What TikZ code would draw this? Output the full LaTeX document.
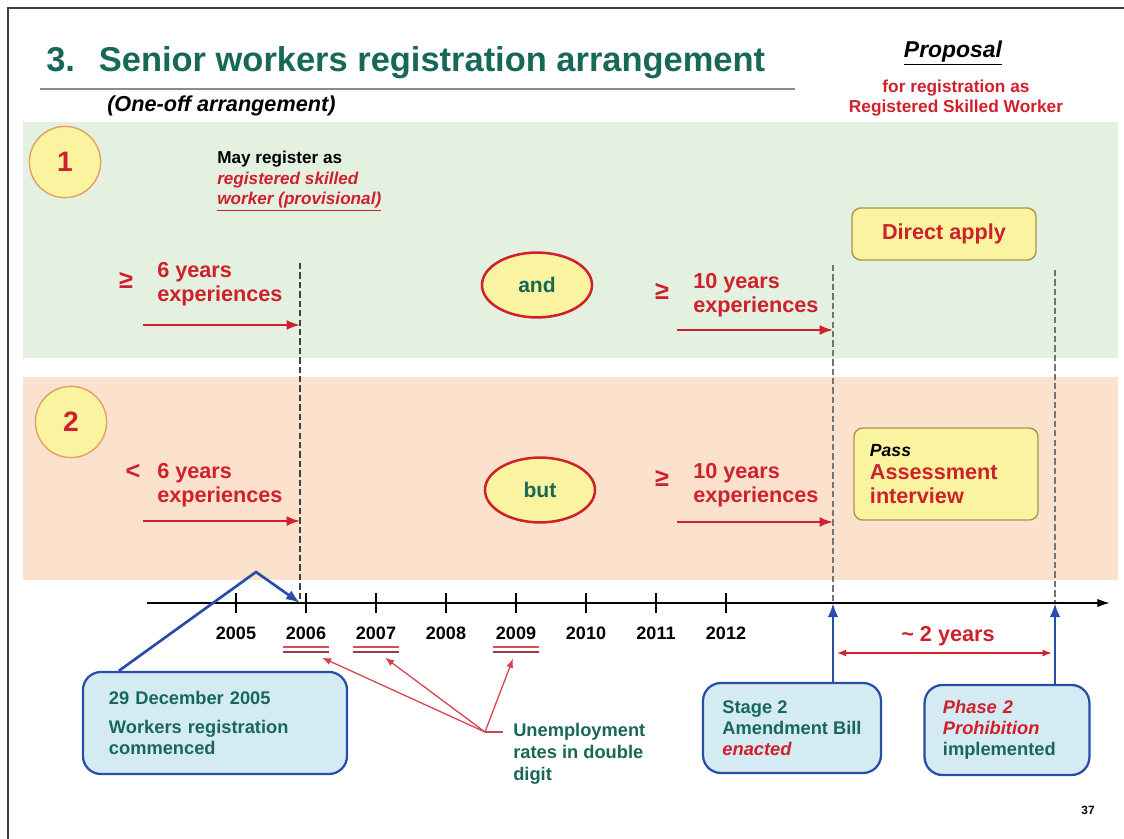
\documentclass[tikz,border=0pt]{standalone}
\usepackage{fontspec}
\setmainfont{Liberation Sans}
\usetikzlibrary{shapes.geometric, calc, arrows.meta}

\definecolor{sred}{RGB}{208,32,44}
\definecolor{steal}{RGB}{24,104,88}
\definecolor{sblue}{RGB}{38,78,168}
\definecolor{sbox}{RGB}{213,235,243}
\definecolor{syel}{RGB}{250,244,160}
\definecolor{bandA}{RGB}{228,240,224}
\definecolor{bandB}{RGB}{252,226,204}
\definecolor{sorange}{RGB}{226,160,100}
\definecolor{solive}{RGB}{170,150,80}
\definecolor{ulred}{RGB}{150,60,72}

\tikzset{
  lbl/.style={inner sep=0pt, text=sred, align=left, font=\bfseries\fontsize{15.4}{16.8}\selectfont},
  rel/.style={inner sep=0pt, text=sred, font=\bfseries\fontsize{18}{18}\selectfont},
  note/.style={inner sep=0pt, text=steal, align=left, font=\bfseries\fontsize{13}{15.6}\selectfont},
  numc/.style={circle, draw=sorange, line width=1pt, fill=syel, minimum size=1.78cm, text=sred, font=\bfseries\fontsize{20}{21}\selectfont},
  oval/.style={ellipse, draw=sred, line width=1.8pt, fill=syel, minimum width=2.75cm, minimum height=1.62cm, text=steal, font=\bfseries\fontsize{15}{16}\selectfont},
  ybox/.style={draw=solive, line width=1pt, fill=syel, rounded corners=0.22cm, text=sred, font=\bfseries\fontsize{15.4}{16.8}\selectfont},
  callout/.style={draw=sblue, line width=1.6pt, fill=sbox, rounded corners=0.45cm, text=steal, align=left, font=\bfseries\fontsize{13}{14.8}\selectfont},
  year/.style={inner sep=0pt, font=\bfseries\fontsize{12.8}{14}\selectfont},
  redarr/.style={draw=sred, line width=1.4pt, -{Latex[length=9.5pt, width=7pt]}},
  thinarr/.style={draw=sred!85!white, line width=0.9pt, -{Latex[length=6.5pt, width=5pt]}},
  bluearr/.style={draw=sblue, line width=1.9pt, -{Latex[length=10pt, width=7.5pt]}},
  dashv/.style={draw=black!55, line width=0.8pt, dash pattern=on 4.5pt off 2.2pt},
  tick/.style={draw=black, line width=1.3pt}
}

\begin{document}
\begin{tikzpicture}[x=0.025cm, y=-0.025cm]
\useasboundingbox (0,0) rectangle (1124,839);
\draw[black!75, line width=1.5pt] (1124,8) -- (8,8) -- (8,839);

% heading
\node[inner sep=0pt, anchor=west, text=steal, font=\bfseries\fontsize{24.5}{26}\selectfont] (ttl) at (46,63)
  {3.\hspace{17pt}Senior workers registration arrangement};
\coordinate (rl) at (40,89);
\coordinate (rr) at (795,89);
\draw[black!45, line width=1.4pt] (rl) -- (rr);
\node[inner sep=0pt, anchor=west, font=\bfseries\itshape\fontsize{15.4}{17}\selectfont] (oneoff) at (107,106) {(One-off arrangement)};
\node[inner sep=0pt, font=\bfseries\itshape\fontsize{16.3}{18}\selectfont] (prop) at (953,53) {\underline{Proposal}};
\node[inner sep=0pt, align=center, text=sred, font=\bfseries\fontsize{12.3}{14.3}\selectfont] (forreg) at (956,98)
  {for registration as\\Registered Skilled Worker};

% the two bands
\fill[bandA] (23,122) rectangle (1118,358);
\fill[bandB] (23,377) rectangle (1118,580);

\coordinate (d1t) at (300,263);
\coordinate (d1b) at (300,603);
\coordinate (d2t) at (833,265);
\coordinate (d2b) at (833,603);
\coordinate (d3t) at (1055,270);
\coordinate (d3b) at (1055,603);
\draw[dashv, draw=black!75] (d1t) -- (d1b);
\draw[dashv] (d2t) -- (d2b);
\draw[dashv] (d3t) -- (d3b);

% row 1
\node[numc] (n1) at (65,162) {1};
\node[note, anchor=west, text=black, font=\bfseries\fontsize{12.2}{14.6}\selectfont] (may) at (217,181)
  {May register as\\\textcolor{sred}{\itshape registered skilled}\\\textcolor{sred}{\itshape\underline{worker (provisional)}}};
\node[rel] (ge1) at (126,280) {≥};
\node[lbl, anchor=west] (six1) at (157,284) {6 years\\experiences};
\coordinate (a1) at (143,325);
\draw[redarr] (a1) -- (a1 -| d1t);
\node[oval] (and) at (537,285) {and};
\node[rel] (ge2) at (662,291) {≥};
\node[lbl, anchor=west] (ten1) at (693,295) {10 years\\experiences};
\coordinate (a2) at (677,330);
\draw[redarr] (a2) -- (a2 -| d2t);
\node[ybox, minimum width=4.6cm, minimum height=1.3cm] (direct) at (944,234) {Direct apply};

% row 2
\node[numc] (n2) at (71,422) {2};
\node[rel] (lt) at (133,472) {<};
\node[lbl, anchor=west] (six2) at (157,485) {6 years\\experiences};
\coordinate (a3) at (143,521);
\draw[redarr] (a3) -- (a3 -| d1t);
\node[oval] (but) at (540,490) {but};
\node[rel] (ge3) at (662,478) {≥};
\node[lbl, anchor=west] (ten2) at (693,485) {10 years\\experiences};
\coordinate (a4) at (677,522);
\draw[redarr] (a4) -- (a4 -| d2t);
\node[ybox, minimum width=4.6cm, minimum height=2.3cm, text width=3.8cm, align=left] (pass) at (946,474)
  {{\itshape\color{black}\fontsize{12.5}{14}\selectfont Pass}\\Assessment\\interview};

% time axis
\coordinate (ax0) at (147,603);
\coordinate (ax1) at (1110,603);
\draw[line width=1.4pt, -{Latex[length=9pt, width=6pt]}] (ax0) -- (ax1);
\foreach \yr [count=\i from 0] in {2005,...,2012} {
  \draw[tick] (236+70*\i,593) -- (236+70*\i,613);
  \node[year] (y\yr) at (236+70*\i,633) {\yr};
}
\foreach \yr in {2006,2007,2009} {
  \draw[sred!80!white, line width=1.3pt] ($(y\yr.south west)+(-3,7)$) -- ($(y\yr.south east)+(3,7)$);
  \draw[ulred, line width=1.3pt] ($(y\yr.south west)+(-3,12)$) -- ($(y\yr.south east)+(3,12)$);
}

% callouts below the axis
\node[callout, minimum width=6.6cm, minimum height=2.55cm, text width=5.3cm] (cb1) at (215,723)
  {29 December 2005\\[5.5pt]Workers registration\\commenced};
\coordinate (pk) at (256,572);
\draw[bluearr] ($(cb1.north west)+(37,0)$) -- (pk) -- (d1b);

\coordinate (uj) at (485,732);
\node[note, anchor=west] (unemp) at (513,754) {Unemployment\\rates in double\\digit};
\draw[sred!85!white, line width=0.9pt, shorten >=0.25cm] (uj) -- (uj -| unemp.west);
\draw[thinarr] (uj) -- ($(y2006.south)+(16,18)$);
\draw[thinarr] (uj) -- ($(y2007.south)+(9,18)$);
\draw[thinarr] (uj) -- ($(y2009.south)+(-3,19)$);

\node[callout, minimum width=4.45cm, minimum height=2.25cm] (cb2) at (792,728)
  {Stage 2\\Amendment Bill\\\textcolor{sred}{\itshape enacted}};
\node[callout, minimum width=4.12cm, minimum height=2.25cm, text width=3.2cm] (cb3) at (1007,730)
  {\textcolor{sred}{\itshape Phase 2}\\\textcolor{sred}{\itshape Prohibition}\\implemented};
\draw[bluearr] (cb2.north -| d2b) -- (d2b);
\draw[bluearr] (cb3.north -| d3b) -- (d3b);

\node[lbl] (gap) at (948,636) {\textasciitilde\ 2 years};
\coordinate (g0) at (833,653);
\draw[draw=sred, line width=1.1pt, {Latex[length=6.5pt, width=5pt]}-{Latex[length=6.5pt, width=5pt]}, shorten <=0.1cm, shorten >=0.08cm] (g0) -- (g0 -| d3b);

\node[inner sep=0pt, font=\bfseries\fontsize{8.5}{10}\selectfont] (pg) at (1088,810) {37};
\end{tikzpicture}
\end{document}
